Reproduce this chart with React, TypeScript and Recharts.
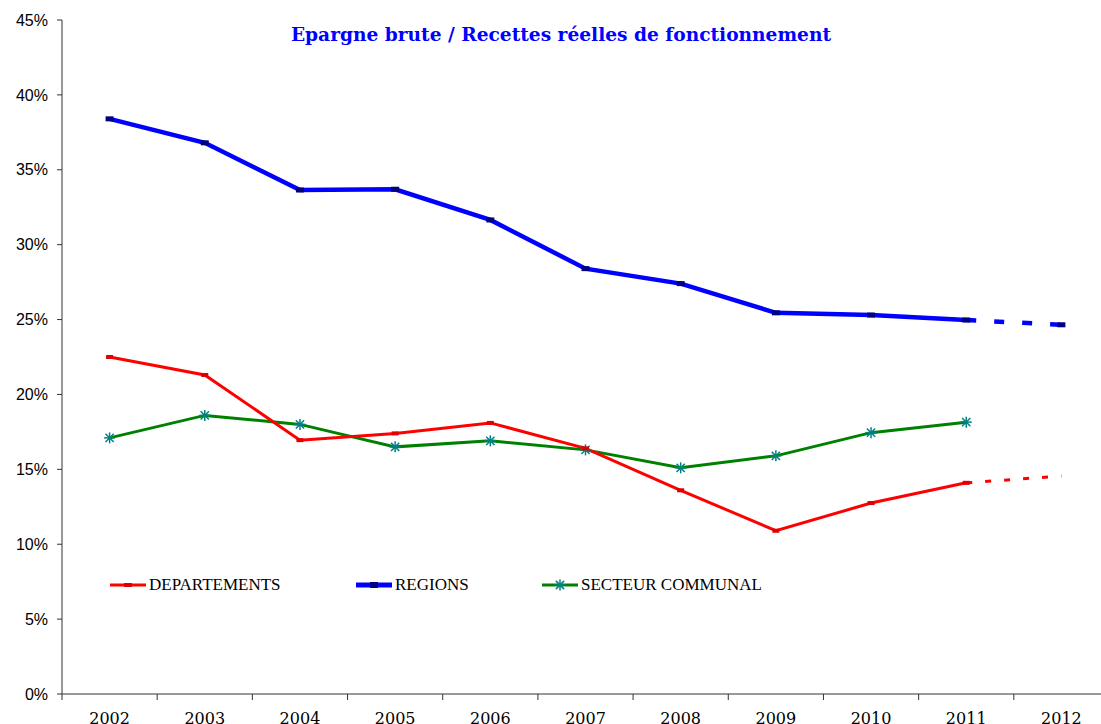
import React from 'react';
import { LineChart, Line, XAxis, YAxis } from 'recharts';

const years = ['2002', '2003', '2004', '2005', '2006', '2007', '2008', '2009', '2010', '2011', '2012'];
const departements = [22.5, 21.3, 16.95, 17.4, 18.1, 16.4, 13.6, 10.9, 12.75, 14.1, null];
const departementsPrev = [null, null, null, null, null, null, null, null, null, 14.1, 14.55];
const regions = [38.4, 36.8, 33.65, 33.7, 31.65, 28.4, 27.4, 25.45, 25.3, 24.97, null];
const regionsPrev = [null, null, null, null, null, null, null, null, null, 24.97, 24.65];
const communal = [17.1, 18.6, 18.0, 16.5, 16.9, 16.3, 15.1, 15.9, 17.45, 18.15, null];
const yTicks = [0, 5, 10, 15, 20, 25, 30, 35, 40, 45];

const CHART_W = 1120;
const CHART_H = 724;
const MARGIN = { top: 20, right: 11, bottom: 0, left: 10 };
const Y_W = 52;
const PLOT_W = CHART_W - MARGIN.left - MARGIN.right - Y_W;
const STEP = PLOT_W / years.length;

const data = years.map((year, i) => ({
  x: i + 0.5,
  year,
  dep: departements[i],
  depPrev: departementsPrev[i],
  reg: regions[i],
  regPrev: regionsPrev[i],
  com: communal[i],
}));

const xTicks = years.map((_, i) => i + 0.5);

const YearTick = ({ x, y, payload, index }: any) => {
  const half = STEP / 2;
  return (
    <g>
      <line x1={x - half} y1={y} x2={x - half} y2={y + 6} stroke="#333" strokeWidth={1} />
      {index === years.length - 1 && (
        <line x1={x + half} y1={y} x2={x + half} y2={y + 6} stroke="#333" strokeWidth={1} />
      )}
      <text x={x} y={y + 30} textAnchor="middle" fontFamily="'DejaVu Serif', serif" fontSize={16} fill="#000">
        {years[Math.round(payload.value - 0.5)]}
      </text>
    </g>
  );
};

const DashDot = (color: string, w: number, h: number) => (props: any) => {
  const { cx, cy, value, index } = props;
  if (value == null || cx == null) return <g key={index} />;
  return <rect key={index} x={cx - w / 2} y={cy - h / 2} width={w} height={h} fill={color} />;
};

const StarDot = (props: any) => {
  const { cx, cy, value, index } = props;
  if (value == null || cx == null) return <g key={index} />;
  const r = 5.5;
  return (
    <g key={index} stroke="#008080" strokeWidth={1.5}>
      <line x1={cx - r} y1={cy} x2={cx + r} y2={cy} />
      <line x1={cx} y1={cy - r} x2={cx} y2={cy + r} />
      <line x1={cx - r * 0.75} y1={cy - r * 0.75} x2={cx + r * 0.75} y2={cy + r * 0.75} />
      <line x1={cx - r * 0.75} y1={cy + r * 0.75} x2={cx + r * 0.75} y2={cy - r * 0.75} />
    </g>
  );
};

const legendItems = [
  { label: 'DEPARTEMENTS', color: '#FF0000', width: 3, marker: 'dash', mark: '#E00000' },
  { label: 'REGIONS', color: '#0000FF', width: 5, marker: 'dash', mark: '#000080' },
  { label: 'SECTEUR COMMUNAL', color: '#008000', width: 3, marker: 'star', mark: '#008080' },
];

const legendLeft = [109, 355, 541];

const ChartLegend = () => (
  <div style={{ position: 'absolute', top: 575, left: 0, width: 1101, height: 22, zIndex: 2 }}>
    {legendItems.map((item, i) => (
      <div
        key={item.label}
        style={{ position: 'absolute', left: legendLeft[i], top: 0, display: 'flex', alignItems: 'center' }}
      >
        <svg width={38} height={20}>
          <line x1={1} y1={10} x2={37} y2={10} stroke={item.color} strokeWidth={item.width} />
          {item.marker === 'dash' ? (
            <rect x={15} y={10 - item.width / 2 - 0.5} width={8} height={item.width + 1} fill={item.mark} />
          ) : (
            <StarDot cx={19} cy={10} value={1} index={0} />
          )}
        </svg>
        <span style={{ fontFamily: "'Liberation Serif', serif", fontSize: 17, color: '#000', marginLeft: 2 }}>
          {item.label}
        </span>
      </div>
    ))}
  </div>
);

export default function App() {
  return (
    <div
      style={{
        position: 'fixed',
        left: 0,
        top: 0,
        width: 1101,
        height: 724,
        overflow: 'hidden',
        background: '#fff',
      }}
    >
      <div
        style={{
          position: 'absolute',
          left: 0,
          top: 23,
          width: 1122,
          textAlign: 'center',
          fontFamily: "'DejaVu Serif', serif",
          fontWeight: 'bold',
          fontSize: 18.6,
          lineHeight: '24px',
          color: '#0000FF',
          zIndex: 2,
        }}
      >
        Epargne brute / Recettes réelles de fonctionnement
      </div>
      <ChartLegend />
      <LineChart width={CHART_W} height={CHART_H} data={data} margin={MARGIN}>
        <XAxis
          dataKey="x"
          type="number"
          domain={[0, years.length]}
          ticks={xTicks}
          interval={0}
          tick={<YearTick />}
          tickLine={false}
          tickSize={0}
          tickMargin={0}
          axisLine={{ stroke: '#333' }}
          height={30}
          allowDataOverflow
        />
        <YAxis
          type="number"
          domain={[0, 45]}
          ticks={yTicks}
          interval={0}
          width={Y_W}
          tickSize={5}
          tickMargin={9}
          tickFormatter={(v: number) => `${v}%`}
          tick={{ fill: '#000', fontFamily: "'Liberation Sans', sans-serif", fontSize: 16 }}
          tickLine={{ stroke: '#333' }}
          axisLine={{ stroke: '#333' }}
        />
        <Line
          dataKey="com"
          stroke="#008000"
          strokeWidth={3}
          dot={<StarDot />}
          isAnimationActive={false}
        />
        <Line
          dataKey="dep"
          stroke="#FF0000"
          strokeWidth={3}
          dot={DashDot('#E00000', 7, 4)}
          isAnimationActive={false}
        />
        <Line
          dataKey="depPrev"
          stroke="#FF0000"
          strokeWidth={3}
          strokeDasharray="6 13"
          dot={false}
          isAnimationActive={false}
        />
        <Line
          dataKey="reg"
          stroke="#0000FF"
          strokeWidth={4.5}
          dot={DashDot('#000080', 8, 5)}
          isAnimationActive={false}
        />
        <Line
          dataKey="regPrev"
          stroke="#0000FF"
          strokeWidth={4.5}
          strokeDasharray="10 18"
          dot={(props: any) =>
            props.index === years.length - 1 ? DashDot('#000080', 8, 5)(props) : <g key={props.index} />
          }
          isAnimationActive={false}
        />
      </LineChart>
    </div>
  );
}
